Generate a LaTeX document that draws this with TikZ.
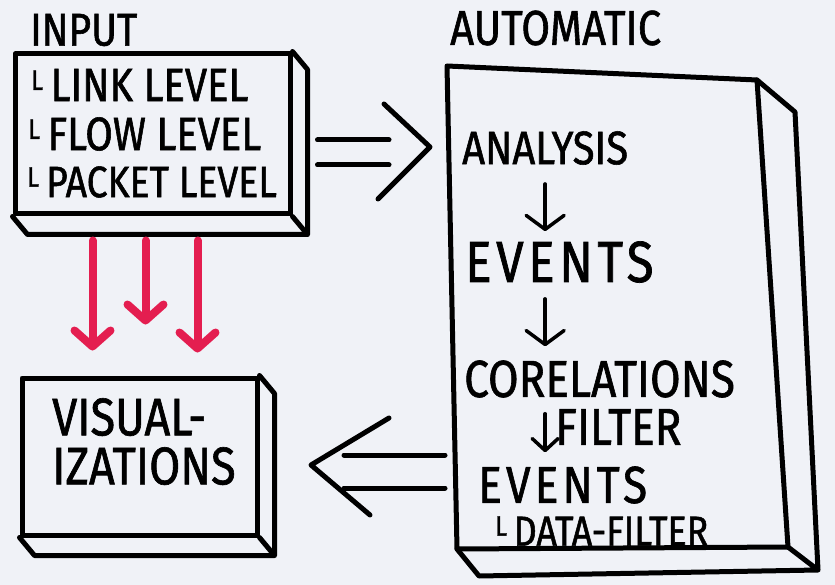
\documentclass[tikz,border=0pt]{standalone}
\usepackage{fontspec}
\setmainfont{Fira Sans}[FakeStretch=0.85,FakeBold=1.2]
\usetikzlibrary{arrows.meta,calc}
\definecolor{board}{RGB}{240,242,247}
\definecolor{marker}{RGB}{228,30,80}
\newcommand{\hs}[1]{\fontsize{#1}{#1}\selectfont}
\newcommand{\lmark}{\raisebox{.24em}{\hs{28}L}\hspace{.16em}}
\newcommand{\wide}{\addfontfeature{LetterSpace=8}}
\tikzset{
  ink/.style={line width=5pt,line cap=round,line join=round},
  redpen/.style={line width=8pt,line cap=round,draw=marker,-{Straight Barb[round,length=16pt,width=36pt]}},
  pen/.style={line width=3.5pt,line cap=round,-{Straight Barb[round,length=14pt,width=38pt]}},
  word/.style={inner sep=0pt,anchor=west},
  box/.style={ink,draw,inner sep=0pt},
}
\begin{document}
\begin{tikzpicture}[x=1pt,y=-1pt]
\fill[board] (0,0) rectangle (835,585);
\pgfmathsetmacro{\dx}{15}
\pgfmathsetmacro{\dy}{18}
% boxes on the left
\node[box,minimum width=275pt,minimum height=160pt] (inp) at (152.5,134) {};
\node[box,minimum width=235pt,minimum height=157pt] (vis) at (139.5,456.5) {};
\foreach \b in {inp,vis}{
  \draw[ink] (\b.north east) -- ++(\dx,\dy) -- ($(\b.south east)+(\dx,\dy)$) -- ($(\b.south west)+(\dx,\dy)$) -- (\b.south west)
    (\b.south east) -- ++(\dx,\dy);
}
% big box
\coordinate (atl) at (447,66);
\coordinate (atr) at (757,80);
\coordinate (abr) at (788,547);
\coordinate (abl) at (457,549);
\draw[ink] (atl) -- (atr) -- (abr) -- (abl) -- cycle;
\draw[ink] (atr) -- (795,112) -- ($(abr)+(30,23)$) -- ($(abl)+(22,27)$) -- (abl) (abr) -- ++(30,23);
% texts
\node[word,font=\hs{46}] (tin) at (30,30) {INPUT};
\node[word,font=\hs{47}] (lnk) at (31,85) {\lmark LINK LEVEL};
\node[word,font=\hs{47}] (flw) at (28,134) {\lmark FLOW LEVEL};
\node[word,font=\hs{44}] (pkt) at (27,182) {\lmark PACKET LEVEL};
\node[word,font=\hs{49}] (tau) at (450,28) {AUTOMATIC};
\node[word,font=\hs{47}] (ana) at (462,148) {ANALYSIS};
\node[word,font=\hs{58}\wide] (ev1) at (465,262) {EVENTS};
\node[word,font=\hs{52}] (cor) at (464,379) {CORELATIONS};
\node[word,font=\hs{52}] (flt) at (555,427) {FILTER};
\node[word,font=\hs{52}\wide] (ev2) at (478,485) {EVENTS};
\node[word,font=\hs{42}] (dat) at (495,531) {\lmark DATA-FILTER};
\node[inner sep=0pt,anchor=north west,align=left,font=\fontsize{53}{49}\selectfont] (vtx) at (52,398) {VISUAL-\\IZATIONS};
% steps
\draw[pen,shorten <=19pt,shorten >=10pt] (ana.south) -- (ana.south |- ev1.north);
\draw[pen,shorten <=16pt,shorten >=14pt] (ana.south |- ev1.south) -- (ana.south |- cor.north);
\draw[pen,-{Straight Barb[round,length=12pt,width=26pt]},shorten <=16pt,shorten >=14pt] (ana.south |- cor.south) -- (ana.south |- ev2.north);
% red arrows
\foreach \x/\t in {-60/25,-7/51,45/23}{
  \draw[redpen,shorten <=24pt,shorten >=\t pt] ([xshift=\x pt]inp.south) -- ([xshift=\x pt]inp.south |- vis.north);
}
% double arrows
\coordinate (rt) at (430,147);
\coordinate (lt) at (311,465);
\coordinate (aw) at (454,470);
\foreach \y in {140,165}{\draw[ink,shorten <=25pt,shorten >=41pt] (inp.east |- 0,\y) -- (rt |- 0,\y);}
\draw[ink] (384,104) -- (rt) -- (378,199);
\foreach \y in {455,488}{\draw[ink,shorten <=9pt,shorten >=33pt] (aw |- 0,\y) -- (lt |- 0,\y);}
\draw[ink] (389,418) -- (lt) -- (370,515);
\end{tikzpicture}
\end{document}
